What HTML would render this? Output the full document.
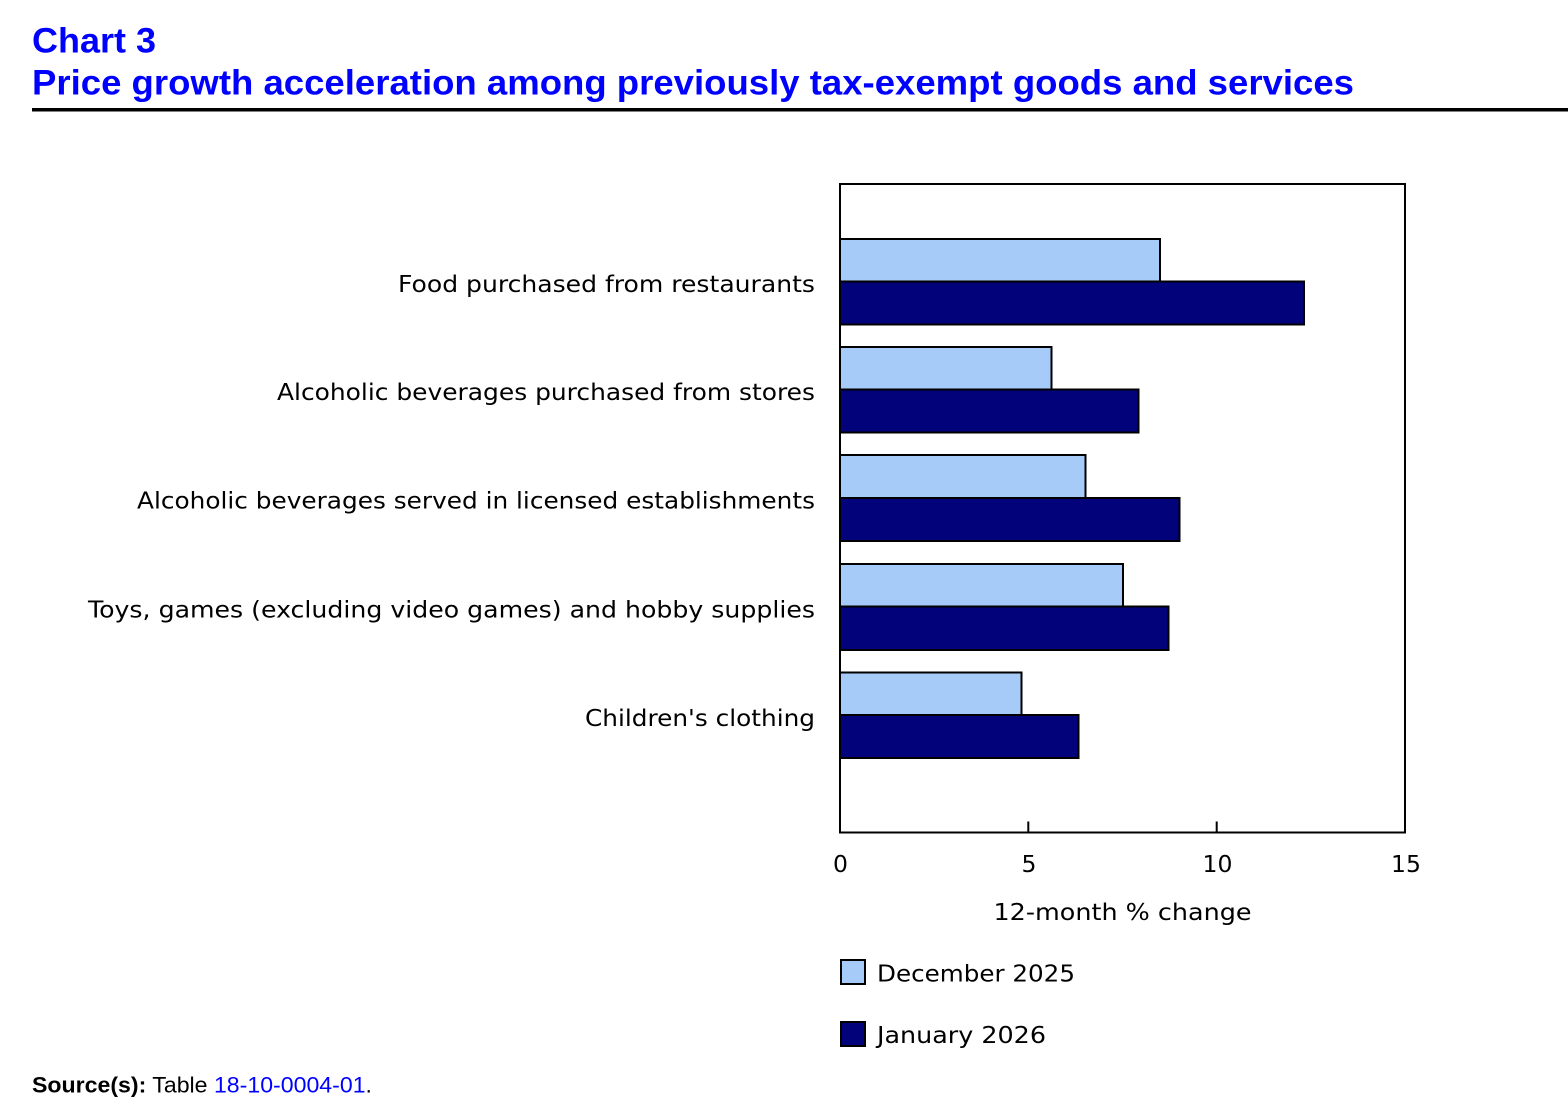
<!DOCTYPE html>
<html>
<head>
<meta charset="utf-8">
<style>
  html, body { margin: 0; padding: 0; background: #ffffff; }
  svg { display: block; }
</style>
</head>
<body>
<svg width="1568" height="1116" viewBox="0 0 1568 1116" xmlns="http://www.w3.org/2000/svg">
  <rect x="0" y="0" width="1568" height="1116" fill="#ffffff"/>

  <!-- Title -->
  <text x="32" y="52.5" font-family="'Liberation Sans', Arial, sans-serif" font-weight="bold" font-size="35" fill="#0000ff" textLength="124" lengthAdjust="spacingAndGlyphs">Chart 3</text>
  <text x="32" y="94.5" font-family="'Liberation Sans', Arial, sans-serif" font-weight="bold" font-size="35" fill="#0000ff" textLength="1322" lengthAdjust="spacingAndGlyphs">Price growth acceleration among previously tax-exempt goods and services</text>
  <rect x="32" y="108" width="1536" height="3.5" fill="#000000"/>

  <!-- Bars -->
  <g stroke="#000000" stroke-width="2">
    <rect x="840" y="239" width="320" height="42.5" fill="#a6cbf8"/>
    <rect x="840" y="281.5" width="464" height="43" fill="#02027a"/>
    <rect x="840" y="347" width="211.5" height="42.5" fill="#a6cbf8"/>
    <rect x="840" y="389.5" width="298.5" height="43" fill="#02027a"/>
    <rect x="840" y="455" width="245.5" height="43" fill="#a6cbf8"/>
    <rect x="840" y="498" width="339.5" height="43" fill="#02027a"/>
    <rect x="840" y="564" width="283" height="42.5" fill="#a6cbf8"/>
    <rect x="840" y="606.5" width="328.5" height="43.5" fill="#02027a"/>
    <rect x="840" y="672.5" width="181.5" height="42.5" fill="#a6cbf8"/>
    <rect x="840" y="715" width="238.5" height="43" fill="#02027a"/>
  </g>

  <!-- Plot frame -->
  <rect x="840" y="184" width="565" height="648.5" fill="none" stroke="#000000" stroke-width="2"/>
  <line x1="1028.3" y1="821.5" x2="1028.3" y2="832.5" stroke="#000" stroke-width="2"/>
  <line x1="1216.7" y1="821.5" x2="1216.7" y2="832.5" stroke="#000" stroke-width="2"/>

  <!-- Category labels -->
  <g font-family="'DejaVu Sans', Verdana, sans-serif" font-size="23" fill="#000000" text-anchor="end">
    <text x="815" y="292" textLength="417" lengthAdjust="spacingAndGlyphs">Food purchased from restaurants</text>
    <text x="815" y="400" textLength="538" lengthAdjust="spacingAndGlyphs">Alcoholic beverages purchased from stores</text>
    <text x="815" y="508.5" textLength="678" lengthAdjust="spacingAndGlyphs">Alcoholic beverages served in licensed establishments</text>
    <text x="815" y="617.5" textLength="727" lengthAdjust="spacingAndGlyphs">Toys, games (excluding video games) and hobby supplies</text>
    <text x="815" y="726" textLength="230" lengthAdjust="spacingAndGlyphs">Children's clothing</text>
  </g>

  <!-- Tick labels -->
  <g font-family="'DejaVu Sans', Verdana, sans-serif" font-size="23.5" fill="#000000" text-anchor="middle">
    <text x="840.5" y="872">0</text>
    <text x="1029" y="872">5</text>
    <text x="1217.5" y="872">10</text>
    <text x="1406" y="872">15</text>
    <text x="1122.5" y="920" textLength="258" lengthAdjust="spacingAndGlyphs">12-month % change</text>
  </g>

  <!-- Legend -->
  <rect x="841" y="960" width="24" height="24" fill="#a6cbf8" stroke="#000" stroke-width="2"/>
  <text x="877" y="981.5" font-family="'DejaVu Sans', Verdana, sans-serif" font-size="23" fill="#000" textLength="198" lengthAdjust="spacingAndGlyphs">December 2025</text>
  <rect x="841" y="1022" width="24" height="24" fill="#02027a" stroke="#000" stroke-width="2"/>
  <text x="877" y="1043" font-family="'DejaVu Sans', Verdana, sans-serif" font-size="23" fill="#000" textLength="169" lengthAdjust="spacingAndGlyphs">January 2026</text>

  <!-- Source -->
  <text x="32" y="1092.5" font-family="'Liberation Sans', Arial, sans-serif" font-size="22.5" fill="#000000" textLength="340" lengthAdjust="spacingAndGlyphs"><tspan font-weight="bold">Source(s):</tspan> Table <tspan fill="#0000ff">18-10-0004-01</tspan>.</text>
</svg>
</body>
</html>
